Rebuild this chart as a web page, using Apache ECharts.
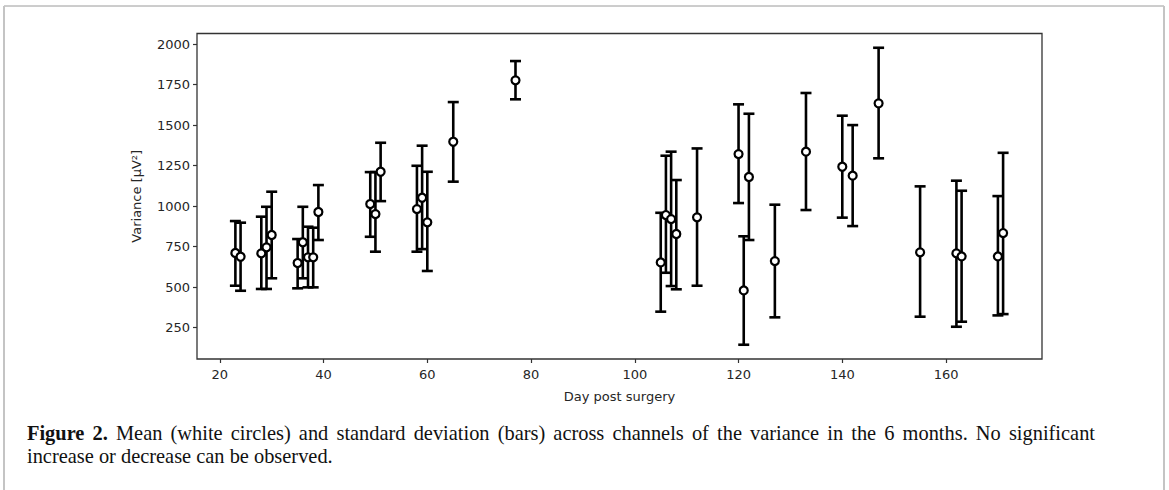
<!DOCTYPE html>
<html>
<head>
<meta charset="utf-8">
<script src="https://cdn.jsdelivr.net/npm/echarts@6/dist/echarts.min.js"></script>
<style>
html,body{margin:0;padding:0;background:#fff;}
#wrap{position:relative;width:1169px;height:490px;overflow:hidden;}
#chart{position:absolute;left:0;top:0;width:1169px;height:490px;}
#caption{position:absolute;left:27px;top:422px;width:1068px;font-family:'Liberation Serif',serif;font-size:20.4px;line-height:23px;color:#111;}
#caption .l1{text-align:justify;text-align-last:justify;}
#caption b{font-weight:bold;}
</style>
</head>
<body>
<div id="wrap">
<div id="chart"></div>
<div id="caption"><div class="l1" id="cap1"></div><div id="cap2"></div></div>
</div>
<script>
// Day post surgery for each measurement
const days = [23,24,28,29,30,35,36,37,38,39,49,50,51,58,59,60,65,77,105,106,107,108,112,120,121,122,127,133,140,142,147,155,162,163,170,171];
// Mean variance (white circles)
const means = [711,688,709,746,822,649,777,684,684,964,1013,951,1212,982,1052,900,1397,1776,653,945,920,828,931,1321,480,1180,661,1336,1243,1188,1634,715,709,690,690,834];
// Upper end of the standard-deviation bar
const upper = [908,898,935,996,1089,797,996,873,867,1130,1210,1210,1391,1249,1373,1212,1642,1895,959,1311,1336,1161,1356,1628,814,1570,1009,1698,1558,1500,1977,1122,1157,1095,1062,1329];
// Lower end of the standard-deviation bar
const lower = [509,478,489,489,555,493,555,499,499,791,811,719,1031,719,735,600,1151,1659,349,589,507,487,509,1019,145,791,314,976,929,877,1295,318,256,287,326,334];
// Tick labels
const xTicks = [20,40,60,80,100,120,140,160];
const yTicks = [250,500,750,1000,1250,1500,1750,2000];
const xLabel = 'Day post surgery';
const yLabel = 'Variance [µV²]';
const captionBold = 'Figure 2.';
const captionLine1 = ' Mean (white circles) and standard deviation (bars) across channels of the variance in the 6 months. No significant';
const captionLine2 = 'increase or decrease can be observed.';

const b = document.createElement('b');
b.textContent = captionBold;
const cap1 = document.getElementById('cap1');
cap1.appendChild(b);
cap1.appendChild(document.createTextNode(captionLine1));
document.getElementById('cap2').textContent = captionLine2;

const errData = days.map((d, i) => [d, lower[i], upper[i]]);
const ptData = days.map((d, i) => [d, means[i]]);

const chart = echarts.init(document.getElementById('chart'), null, {renderer: 'svg'});
const tickFont = {fontFamily: 'DejaVu Sans', fontSize: 13, color: '#262626'};

chart.setOption({
  animation: false,
  backgroundColor: 'transparent',
  grid: {left: 197, top: 33.5, right: 127, bottom: 131, show: true, borderColor: '#333', borderWidth: 1.3, backgroundColor: 'transparent'},
  xAxis: {
    type: 'value', min: 15.6, max: 178.5,
    splitLine: {show: false},
    axisLine: {show: false},
    axisTick: {show: true, customValues: xTicks, length: 4, lineStyle: {color: '#333', width: 1.2}},
    axisLabel: {customValues: xTicks, margin: 9, formatter: v => String(v), ...tickFont},
    name: xLabel, nameLocation: 'middle', nameGap: 31,
    nameTextStyle: {fontFamily: 'DejaVu Sans', fontSize: 13, color: '#262626'}
  },
  yAxis: {
    type: 'value', min: 57, max: 2065,
    splitLine: {show: false},
    axisLine: {show: false},
    axisTick: {show: true, customValues: yTicks, length: 4, lineStyle: {color: '#333', width: 1.2}},
    axisLabel: {customValues: yTicks, margin: 7, formatter: v => String(v), ...tickFont},
    name: yLabel, nameLocation: 'middle', nameGap: 54, nameRotate: 90,
    nameTextStyle: {fontFamily: 'DejaVu Sans', fontSize: 13, color: '#262626'}
  },
  series: [
    {
      type: 'custom',
      data: errData,
      z: 2,
      renderItem: function (params, api) {
        const x = api.value(0);
        const lo = api.coord([x, api.value(1)]);
        const hi = api.coord([x, api.value(2)]);
        const hw = 5.5;
        const st = {stroke: '#000', lineWidth: 2.6};
        return {
          type: 'group',
          children: [
            {type: 'line', shape: {x1: lo[0], y1: lo[1], x2: hi[0], y2: hi[1]}, style: st},
            {type: 'line', shape: {x1: lo[0] - hw, y1: lo[1], x2: lo[0] + hw, y2: lo[1]}, style: st},
            {type: 'line', shape: {x1: hi[0] - hw, y1: hi[1], x2: hi[0] + hw, y2: hi[1]}, style: st}
          ]
        };
      }
    },
    {
      type: 'scatter',
      data: ptData,
      z: 3,
      symbol: 'circle',
      symbolSize: 8,
      itemStyle: {color: '#fff', borderColor: '#000', borderWidth: 2.2, opacity: 1}
    }
  ],
  graphic: [
    {type: 'line', shape: {x1: 4, y1: 6, x2: 1164, y2: 6}, style: {stroke: '#9a9a9a', lineWidth: 1}},
    {type: 'line', shape: {x1: 4, y1: 6, x2: 4, y2: 490}, style: {stroke: '#c4c4c4', lineWidth: 2}},
    {type: 'line', shape: {x1: 1164, y1: 6, x2: 1164, y2: 490}, style: {stroke: '#c4c4c4', lineWidth: 2}}
  ]
});
</script>
</body>
</html>
